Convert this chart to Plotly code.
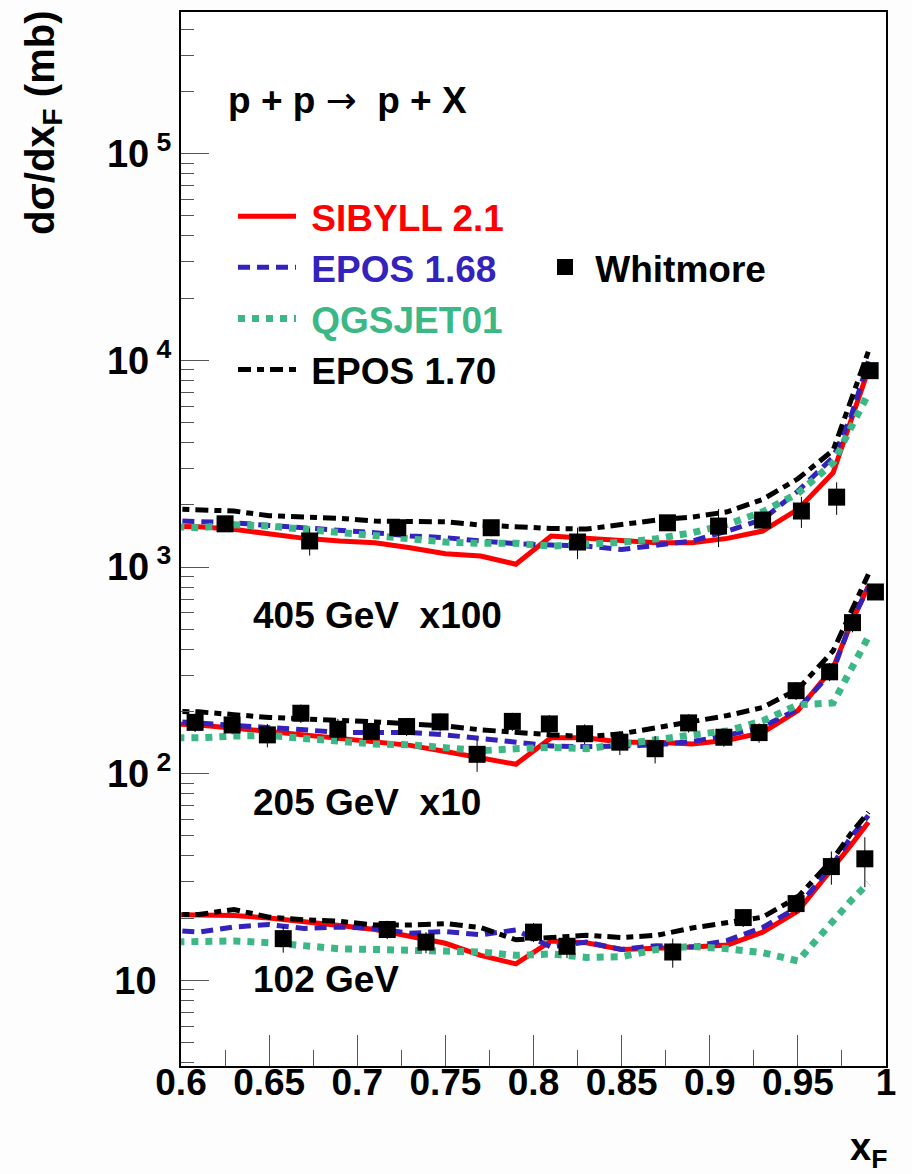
import plotly.graph_objects as go

# ---------------- data ----------------
# model curves sampled in x_F (unscaled dsigma/dx_F in mb)
x_model = [0.59, 0.61, 0.63, 0.65, 0.67, 0.69, 0.71, 0.73, 0.75, 0.77, 0.79,
           0.81, 0.83, 0.85, 0.87, 0.89, 0.91, 0.93, 0.95, 0.97, 0.98, 0.99]

sib_405 = [15.78, 15.66, 15.22, 14.38, 13.76, 13.36, 13.11, 12.40, 11.60, 11.30, 10.31,
           14.13, 13.76, 13.36, 13.11, 13.11, 13.76, 14.93, 19.00, 28.58, 49.77, 90.16]
epos168_405 = [16.83, 16.68, 16.36, 15.89, 15.49, 15.04, 14.65, 14.13, 13.87, 13.36, 12.97,
               12.77, 12.62, 12.16, 12.77, 13.36, 14.93, 16.99, 23.29, 34.00, 53.00, 98.90]
qgs_405 = [15.78, 15.49, 16.00, 15.78, 15.22, 14.65, 14.13, 13.66, 13.21, 13.02, 13.02,
           12.62, 12.88, 13.16, 13.71, 14.65, 16.07, 18.49, 22.70, 31.90, 47.10, 69.02]
epos170_405 = [19.14, 19.01, 18.66, 17.71, 17.51, 17.19, 16.68, 16.55, 16.55, 15.96, 15.60,
               15.37, 15.26, 16.07, 16.87, 17.45, 18.49, 21.23, 26.72, 36.74, 63.40, 110.5]

sib_205 = [17.5, 17.2, 16.6, 16.0, 15.3, 14.9, 14.3, 13.7, 12.8, 12.0, 11.1,
           14.9, 14.9, 14.2, 14.2, 13.9, 14.5, 15.8, 20.2, 32.6, 52.8, 80.9]
epos168_205 = [18.0, 17.6, 17.2, 16.7, 16.3, 15.8, 15.8, 15.8, 15.4, 14.7, 14.2,
               13.6, 13.5, 13.6, 13.8, 14.3, 15.3, 16.9, 20.5, 31.5, 53.8, 79.5]
qgs_205 = [14.9, 14.9, 15.2, 15.3, 14.8, 14.3, 13.9, 13.8, 13.3, 12.9, 13.2,
           13.4, 13.2, 13.8, 14.6, 15.4, 16.1, 18.0, 21.5, 22.0, 31.3, 45.9]
epos170_205 = [20.1, 19.9, 19.3, 18.7, 18.4, 18.2, 17.8, 17.4, 17.0, 16.3, 15.8,
               15.4, 15.1, 15.6, 16.7, 17.8, 19.1, 20.9, 25.6, 39.3, 60.1, 92.2]

sib_102 = [20.8, 20.8, 20.6, 20.0, 19.3, 18.4, 17.6, 16.2, 15.1, 13.2, 12.0,
           15.5, 15.2, 14.1, 14.2, 14.5, 14.8, 17.1, 21.6, 34.7, 44.9, 58.2]
epos168_102 = [17.6, 17.1, 18.1, 18.6, 17.8, 18.1, 17.8, 16.9, 17.2, 16.6, 17.5,
               14.5, 15.3, 14.1, 14.7, 14.5, 15.6, 18.0, 22.6, 36.6, 49.2, 62.7]
qgs_102 = [15.3, 15.4, 15.5, 15.2, 14.6, 14.2, 14.1, 13.9, 13.7, 13.7, 13.2,
           13.4, 12.9, 13.0, 14.1, 14.6, 14.2, 13.6, 12.4, 19.7, 24.2, 29.5]
epos170_102 = [20.8, 20.8, 22.0, 20.2, 19.6, 19.3, 18.5, 18.5, 18.8, 18.0, 15.7,
               16.2, 16.5, 16.1, 16.5, 17.9, 18.9, 20.2, 25.3, 38.7, 51.2, 65.0]

# Whitmore data (unscaled)
wx_405 = [0.625, 0.673, 0.723, 0.776, 0.825, 0.876, 0.905, 0.930, 0.952, 0.972, 0.991]
wy_405 = [16.18, 13.36, 15.49, 15.49, 13.21, 16.36, 15.78, 16.87, 18.66, 21.78, 89.18]
we_405 = [1.3, 2.0, 1.2, 1.4, 2.3, 1.3, 3.3, 1.3, 3.2, 3.9, 7.0]

wx_205 = [0.608, 0.629, 0.649, 0.668, 0.689, 0.708, 0.728, 0.747, 0.768, 0.788, 0.809,
          0.829, 0.849, 0.869, 0.888, 0.908, 0.928, 0.949, 0.968, 0.981, 0.994]
wy_205 = [17.7, 17.2, 15.4, 19.6, 16.4, 16.0, 16.9, 17.8, 12.4, 17.9, 17.4,
          15.6, 14.2, 13.2, 17.6, 15.0, 15.8, 25.2, 31.1, 53.8, 75.7]
we_205 = [1.8, 1.7, 2.0, 2.0, 2.0, 1.6, 1.7, 1.8, 2.2, 1.8, 1.8,
          1.7, 1.9, 2.0, 1.8, 1.5, 1.7, 2.5, 3.1, 5.5, 6.0]

wx_102 = [0.658, 0.717, 0.739, 0.800, 0.819, 0.879, 0.919, 0.949, 0.969, 0.988]
wy_102 = [15.9, 17.6, 15.3, 17.1, 14.6, 13.7, 20.1, 23.5, 35.5, 38.7]
we_102 = [2.3, 1.8, 1.8, 1.8, 1.8, 2.2, 2.0, 2.6, 6.5, 10.5]

energies = ["405", "205", "102"]
scale_factors = [100, 10, 1]
group_labels = ["405 GeV\u00a0\u00a0x100", "205 GeV\u00a0\u00a0x10", "102 GeV"]

model_names = ["SIBYLL 2.1", "EPOS 1.68", "QGSJET01", "EPOS 1.70"]
model_data = {
    "SIBYLL 2.1": [sib_405, sib_205, sib_102],
    "EPOS 1.68": [epos168_405, epos168_205, epos168_102],
    "QGSJET01": [qgs_405, qgs_205, qgs_102],
    "EPOS 1.70": [epos170_405, epos170_205, epos170_102],
}
whitmore = [(wx_405, wy_405, we_405), (wx_205, wy_205, we_205), (wx_102, wy_102, we_102)]

x_ticks = [0.6, 0.65, 0.7, 0.75, 0.8, 0.85, 0.9, 0.95, 1.0]
x_ticktext = ["0.6", "0.65", "0.7", "0.75", "0.8", "0.85", "0.9", "0.95", "1"]
y_ticks = [10, 100, 1000, 10000, 100000]

# ---------------- styles ----------------
FONT = "Liberation Sans Narrow, Liberation Sans, Arial, sans-serif"
styles = {
    "SIBYLL 2.1": dict(color="#ff0000", dash="solid", width=5),
    "EPOS 1.68": dict(color="#3322bb", dash="12px,7px", width=5),
    "QGSJET01": dict(color="#3cb887", dash="7px,7px", width=7),
    "EPOS 1.70": dict(color="#000000", dash="13px,6px,7px,6px", width=5),
}

fig = go.Figure()

for name in model_names:
    for gi, (en, sf) in enumerate(zip(energies, scale_factors)):
        yvals = [v * sf for v in model_data[name][gi]]
        st = styles[name]
        fig.add_trace(go.Scatter(
            x=x_model, y=yvals, mode="lines",
            line=dict(color=st["color"], dash=st["dash"], width=st["width"]),
            name="\u00a0<span style='color:%s'>%s</span>" % (st["color"], name),
            legendgroup=name, showlegend=(gi == 0), legend="legend",
            hoverinfo="skip",
        ))

for gi, (sf, (wx, wy, we)) in enumerate(zip(scale_factors, whitmore)):
    fig.add_trace(go.Scatter(
        x=wx, y=[v * sf for v in wy], mode="markers",
        marker=dict(symbol="square", size=17, color="black"),
        error_y=dict(type="data", array=[e * sf for e in we], color="black",
                     thickness=1, width=0),
        name="\u00a0Whitmore", legendgroup="Whitmore", showlegend=(gi == 0),
        legend="legend2", hoverinfo="skip",
    ))

# plot area in pixels: x 181..886, y 10..1066
L, R, T, B = 181, 26, 10, 108
W, H = 912, 1174
PW, PH = W - L - R, H - T - B


def px(xp):
    return (xp - L) / PW


def py(yp):
    return (H - B - yp) / PH


TXT = 37
ann_font = dict(family=FONT, size=TXT, color="black", weight="bold")
annotations = [
    dict(text="p + p <span style='font-family:DejaVu Sans;font-weight:normal'>\u2192</span> \u00a0p + X",
         x=px(226), y=py(99), xanchor="left", yanchor="middle", font=ann_font),
    dict(text="d\u03c3/dx<sub>F</sub> (mb)", x=px(43), y=py(7), xanchor="center",
         yanchor="top", textangle=-90,
         font=dict(family=FONT, size=40, color="black", weight="bold")),
    dict(text="x<sub>F</sub>", x=px(868), y=py(1150), xanchor="center", yanchor="middle",
         font=dict(family=FONT, size=38, color="black", weight="bold")),
]
group_label_y = [615, 802, 979]
for lab, yl in zip(group_labels, group_label_y):
    annotations.append(dict(text=lab, x=px(251), y=py(yl), xanchor="left",
                            yanchor="middle", font=ann_font))
for a in annotations:
    a.update(xref="paper", yref="paper", showarrow=False)

y_ticktext = ["10<sup><span style='color:rgba(0,0,0,0)'>1</span></sup>",
              "10<sup> 2</sup>", "10<sup> 3</sup>", "10<sup> 4</sup>", "10<sup> 5</sup>"]

fig.update_layout(
    width=W, height=H,
    margin=dict(l=L, r=R, t=T, b=B),
    paper_bgcolor="#fcfdfc", plot_bgcolor="white",
    font=dict(family=FONT, size=38, color="black"),
    annotations=annotations,
    legend=dict(x=px(233), y=py(184), xanchor="left", yanchor="top",
                bgcolor="rgba(0,0,0,0)", itemwidth=58, tracegroupgap=5,
                font=dict(family=FONT, size=TXT, weight="bold"), traceorder="normal",
                itemclick=False),
    legend2=dict(x=px(545), y=py(235), xanchor="left", yanchor="top",
                 bgcolor="rgba(0,0,0,0)",
                 font=dict(family=FONT, size=TXT, weight="bold", color="black"),
                 itemclick=False),
    xaxis=dict(range=[0.6, 1.0], tickvals=x_ticks, ticktext=x_ticktext,
               ticks="inside", ticklen=31, tickwidth=1, tickcolor="#555",
               ticklabelstandoff=-17,
               minor=dict(dtick=0.025, ticks="inside", ticklen=16, tickwidth=1, tickcolor="#555"),
               showline=True, linecolor="black", linewidth=2, mirror=True,
               showgrid=False, zeroline=False,
               tickfont=dict(family=FONT, size=37, weight="bold")),
    yaxis=dict(type="log", range=[0.585, 5.686], tickvals=y_ticks, ticktext=y_ticktext,
               ticks="inside", ticklen=28, tickwidth=1, tickcolor="#555",
               minor=dict(ticks="inside", ticklen=13, tickwidth=1, tickcolor="#555", dtick="D1"),
               showline=True, linecolor="black", linewidth=2, mirror=True,
               showgrid=False, zeroline=False,
               tickfont=dict(family=FONT, size=38, weight="bold")),
    showlegend=True,
)

fig.write_html("out.html", config={"displayModeBar": False})
